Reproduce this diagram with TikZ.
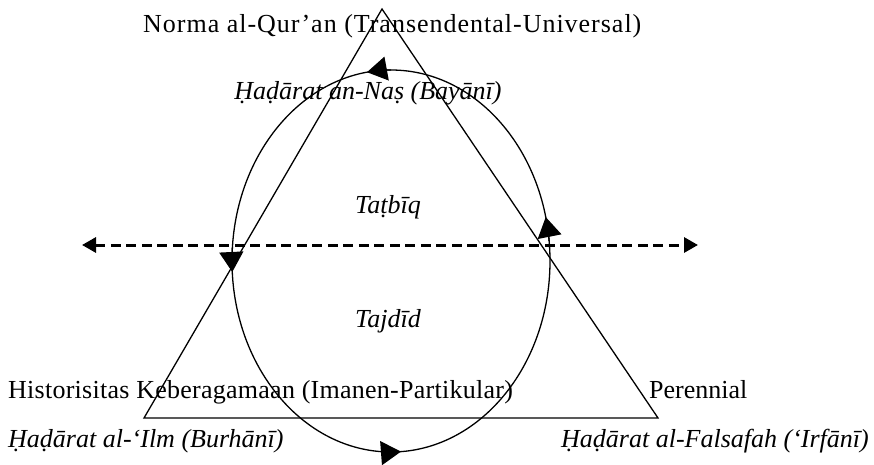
\documentclass[tikz,border=0pt]{standalone}
\usepackage{fontspec}
\setmainfont{Liberation Serif}
\usetikzlibrary{arrows.meta}
\begin{document}
\begin{tikzpicture}[x=1pt,y=-1pt,
  lbl/.style={inner sep=0pt,anchor=base west,font=\fontsize{26}{28}\selectfont},
  ilbl/.style={lbl,font=\fontsize{26}{28}\selectfont\itshape},
  cline/.style={line width=1.3pt},
  tip/.style={line width=1.3pt,-{Triangle[length=20pt,width=24pt]}}]
\useasboundingbox (0,0) rectangle (874,465);
% triangle
\coordinate (A) at (382,9);
\coordinate (B) at (144,418);
\coordinate (C) at (658,418);
\draw[cline,line join=miter] (A) -- (B) -- (C) -- cycle;
% ellipse
\coordinate (O) at (391,261);
\draw[cline] (O) ellipse [x radius=159, y radius=191];
\draw[tip] ([shift={(-90:159 and 191)}]O) arc[start angle=-90,end angle=-98.7,x radius=159,y radius=191];
\draw[tip] ([shift={(-176:159 and 191)}]O) arc[start angle=-176,end angle=-183.3,x radius=159,y radius=191];
\draw[tip] ([shift={(-267:159 and 191)}]O) arc[start angle=-267,end angle=-273.6,x radius=159,y radius=191];
\draw[tip] ([shift={(-6:159 and 191)}]O) arc[start angle=-6,end angle=-13.3,x radius=159,y radius=191];
% dashed line
\coordinate (L) at (82,245);
\coordinate (R) at (698,245);
\draw[line width=3pt,dash pattern=on 10pt off 5.5pt,{Triangle[length=14pt,width=15pt]}-{Triangle[length=14pt,width=15pt]}] (L) -- (R);
% labels
\node[lbl] (n1) at (143,33) {\addfontfeature{LetterSpace=3.8}Norma al-Qur’an (Transendental-Universal)};
\node[ilbl,anchor=base] (n2) at (368,100) {Ḥaḍārat an-Naṣ (Bayānī)};
\node[ilbl,anchor=base] (n3) at (388,213) {Taṭbīq};
\node[ilbl,anchor=base] (n4) at (388,327) {Tajdīd};
\node[lbl] (n5) at (8,398) {\addfontfeature{LetterSpace=1.0}Historisitas Keberagamaan (Imanen-Partikular)};
\node[lbl] (n6) at (649,398) {Perennial};
\node[ilbl] (n7) at (8,447) {Ḥaḍārat al-‘Ilm (Burhānī)};
\node[ilbl,anchor=base east] (n8) at (869,447) {Ḥaḍārat al-Falsafah (‘Irfānī)};
\end{tikzpicture}
\end{document}
